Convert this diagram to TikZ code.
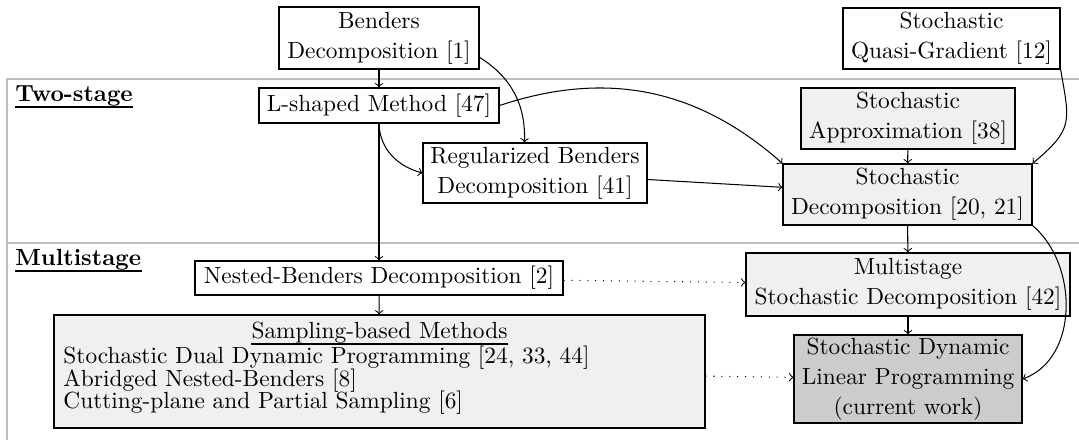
\documentclass[tikz,border=0pt]{standalone}
\usetikzlibrary{calc}
\begin{document}
\begin{tikzpicture}[
  x=0.4367pt, y=0.4367pt,
  every node/.append style={font=\fontsize{10.2}{13.2}\selectfont},
  box/.style={draw, line width=0.5pt, align=center, inner sep=0pt},
  lite/.style={fill=black!6},
  dark/.style={fill=black!20},
  arr/.style={->, line width=0.45pt},
  dotarr/.style={->, line width=0.45pt, dash pattern=on 0.45pt off 3pt},
  frame/.style={draw=black!25, line width=0.55pt},
  seclbl/.style={anchor=base west, inner sep=0pt, font=\fontsize{10.2}{13.2}\selectfont\bfseries},
  plain/.style={inner sep=0pt},
  ul/.style={line width=0.9pt},
]
\useasboundingbox (0,0) rectangle (1079,-439);
\clip (0,0) rectangle (1079,-439);

% stage frames
\draw[frame] (7,-79) rectangle (1100,-242.3);
\draw[frame] (7,-243.7) rectangle (1100,-470);

% stage labels
\node[seclbl] (ts) at (15,-101) {Two-stage};
\draw[ul] ([yshift=-2.7pt]ts.base west) -- ([yshift=-2.7pt]ts.base east);
\node[seclbl] (ms) at (15,-265) {Multistage};
\draw[ul] ([yshift=-2.7pt]ms.base west) -- ([yshift=-2.7pt]ms.base east);

% nodes
\node[box, minimum width=87.3pt, minimum height=27.1pt] (ben) at (379,-38) {Benders\\Decomposition [1]};
\node[box, minimum width=94.8pt, minimum height=26.6pt] (sqg) at (951.5,-38.5) {Stochastic\\Quasi-Gradient [12]};
\node[box, minimum width=104.8pt, minimum height=15.3pt] (lsh) at (379,-105.5) {L-shaped Method [47]};
\node[box, minimum width=97.8pt, minimum height=26.2pt] (reg) at (535,-173) {Regularized Benders\\Decomposition [41]};
\node[box, lite, minimum width=93.5pt, minimum height=26.6pt] (sa) at (908,-118.5) {Stochastic\\Approximation [38]};
\node[box, lite, minimum width=108.7pt, minimum height=26.6pt] (sd) at (907.5,-194.5) {Stochastic\\Decomposition [20, 21]};
\node[box, minimum width=160.7pt, minimum height=14.8pt] (nb) at (379,-278) {Nested-Benders Decomposition [2]};
\node[box, lite, minimum width=141.5pt, minimum height=27.5pt] (msd) at (908,-284.5) {Multistage\\Stochastic Decomposition [42]};
\node[box, dark, minimum width=99.6pt, minimum height=38.4pt] (sdlp) at (908,-379) {Stochastic Dynamic\\Linear Programming\\(current work)};
\node[box, lite, minimum width=284.3pt, minimum height=49.3pt] (samp) at (379.5,-371.5) {};

% sampling box contents
\node[plain, anchor=base] (st) at (379.5,-338) {Sampling-based Methods};
\draw[ul] ([yshift=-2.5pt]st.base west) -- ([yshift=-2.5pt]st.base east);
\node[plain, anchor=base west] (s1) at (63,-363) {Stochastic Dual Dynamic Programming [24, 33, 44]};
\node[plain, anchor=base west] (s2) at (63,-386) {Abridged Nested-Benders [8]};
\node[plain, anchor=base west] (s3) at (63,-408) {Cutting-plane and Partial Sampling [6]};

% connectors
\draw[arr] (ben) -- (lsh);
\draw[arr] (ben) to[bend left=30] (reg);
\draw[arr] (lsh.east) to[bend left=30] (sd.north west);
\draw[arr] (lsh.south) to[out=-88,in=165] (reg.west);
\draw[arr] (lsh) -- (nb);
\draw[arr] (reg) -- (sd);
\draw[arr] (sa) -- (sd);
\draw[arr] (sqg.south east) to[out=-80,in=40,looseness=1.4] (sd.north east);
\draw[arr] (sd) -- (msd);
\draw[arr] (msd) -- (sdlp);
\draw[arr] (sd.south east) to[out=-40,in=20] (sdlp.east);
\draw[arr] (nb) -- (samp);
\draw[dotarr] (nb) -- (msd);
\draw[dotarr] (samp) -- (sdlp);
\end{tikzpicture}
\end{document}
